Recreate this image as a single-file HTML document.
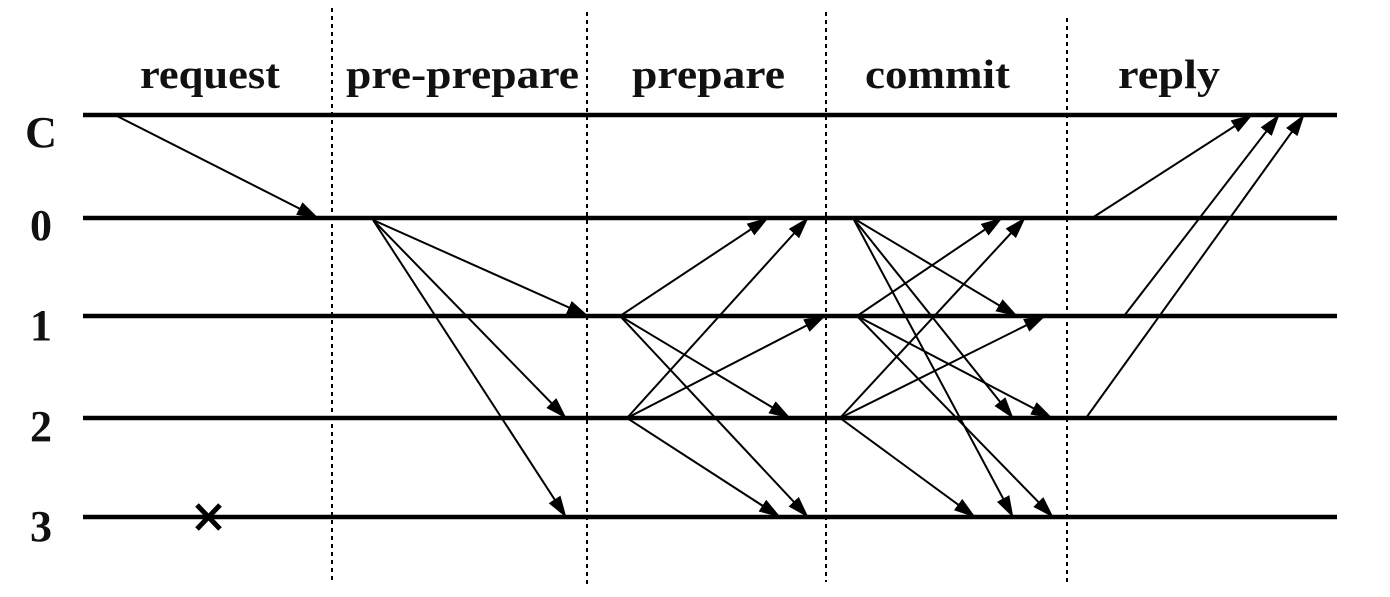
<!DOCTYPE html>
<html><head><meta charset="utf-8"><style>
html,body{margin:0;padding:0;background:#fff;}
svg{display:block;}
text{font-family:"Liberation Serif",serif;font-weight:bold;fill:#111;}
</style></head><body>
<svg width="1390" height="597" viewBox="0 0 1390 597" xmlns="http://www.w3.org/2000/svg">
<defs>
<marker id="a" markerWidth="22" markerHeight="14" refX="21" refY="7" orient="auto" markerUnits="userSpaceOnUse">
<path d="M0,0 L22,7 L0,14 Z" fill="#000"/>
</marker>
</defs>
<g font-size="41" lengthAdjust="spacingAndGlyphs">
<text x="140" y="88" textLength="140" lengthAdjust="spacingAndGlyphs">request</text>
<text x="346" y="88" textLength="233" lengthAdjust="spacingAndGlyphs">pre-prepare</text>
<text x="632" y="88" textLength="153" lengthAdjust="spacingAndGlyphs">prepare</text>
<text x="865" y="88" textLength="145" lengthAdjust="spacingAndGlyphs">commit</text>
<text x="1118" y="88" textLength="102" lengthAdjust="spacingAndGlyphs">reply</text>
</g>
<g font-size="44" text-anchor="middle">
<text x="41" y="147">C</text>
<text x="41" y="240">0</text>
<text x="41" y="340">1</text>
<text x="41" y="441">2</text>
<text x="41" y="541">3</text>
</g>
<g stroke="#000" stroke-width="2" stroke-dasharray="4,4">
<line x1="332" y1="8" x2="332" y2="580"/>
<line x1="587" y1="12" x2="587" y2="585"/>
<line x1="826" y1="12" x2="826" y2="582"/>
<line x1="1067" y1="18" x2="1067" y2="585"/>
</g>
<g stroke="#000" stroke-width="4.5">
<line x1="83" y1="115" x2="1337" y2="115"/>
<line x1="83" y1="218" x2="1337" y2="218"/>
<line x1="83" y1="316" x2="1337" y2="316"/>
<line x1="83" y1="418" x2="1337" y2="418"/>
<line x1="83" y1="517" x2="1337" y2="517"/>
</g>
<g stroke="#000" stroke-width="2" marker-end="url(#a)">
<line x1="115" y1="115" x2="318" y2="218"/>
<line x1="373" y1="220" x2="588" y2="316"/>
<line x1="373" y1="220" x2="566" y2="418"/>
<line x1="373" y1="220" x2="566" y2="517"/>
<line x1="620" y1="316" x2="768" y2="218"/>
<line x1="620" y1="316" x2="790" y2="418"/>
<line x1="620" y1="316" x2="808" y2="517"/>
<line x1="627" y1="418" x2="808" y2="218"/>
<line x1="627" y1="418" x2="825" y2="316"/>
<line x1="627" y1="418" x2="780" y2="517"/>
<line x1="853" y1="218" x2="1017" y2="316"/>
<line x1="853" y1="218" x2="1013" y2="418"/>
<line x1="853" y1="218" x2="1013" y2="517"/>
<line x1="857" y1="316" x2="1002" y2="218"/>
<line x1="857" y1="316" x2="1052" y2="418"/>
<line x1="857" y1="316" x2="1053" y2="517"/>
<line x1="840" y1="418" x2="1025" y2="218"/>
<line x1="840" y1="418" x2="1045" y2="316"/>
<line x1="840" y1="418" x2="975" y2="517"/>
<line x1="1092" y1="218" x2="1252" y2="115"/>
<line x1="1124" y1="316" x2="1279" y2="115"/>
<line x1="1086" y1="418" x2="1304" y2="115"/>
</g>
<g stroke="#000" stroke-width="5">
<line x1="197" y1="505" x2="220" y2="529"/>
<line x1="220" y1="505" x2="197" y2="529"/>
</g>
</svg>
</body></html>
